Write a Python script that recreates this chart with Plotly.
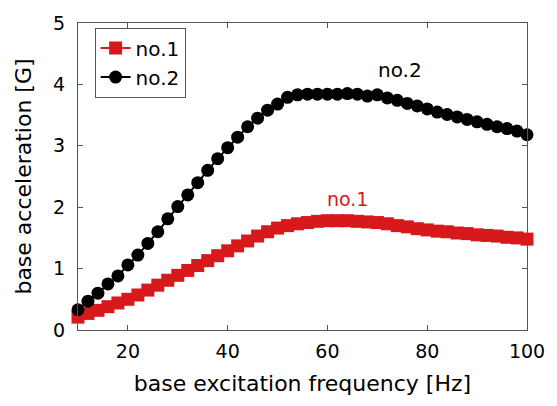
import plotly.graph_objects as go

# excitation frequency sweep [Hz]
freq = list(range(10, 101, 2))

# measured base acceleration [G]
accel_no1 = [0.21, 0.27, 0.32, 0.38, 0.44, 0.50, 0.57, 0.65, 0.73, 0.81,
             0.89, 0.97, 1.05, 1.13, 1.21, 1.29, 1.37, 1.45, 1.53, 1.60,
             1.66, 1.70, 1.73, 1.75, 1.77, 1.78, 1.78, 1.78, 1.77, 1.76,
             1.75, 1.73, 1.70, 1.68, 1.65, 1.63, 1.61, 1.60, 1.58, 1.57,
             1.55, 1.54, 1.53, 1.51, 1.50, 1.48]
accel_no2 = [0.33, 0.47, 0.60, 0.75, 0.88, 1.06, 1.22, 1.41, 1.60, 1.81,
             2.01, 2.20, 2.40, 2.60, 2.79, 2.97, 3.14, 3.31, 3.45, 3.58,
             3.68, 3.79, 3.83, 3.84, 3.84, 3.84, 3.84, 3.85, 3.84, 3.81,
             3.83, 3.78, 3.74, 3.69, 3.65, 3.60, 3.55, 3.51, 3.47, 3.43,
             3.39, 3.35, 3.31, 3.28, 3.24, 3.18]

x_ticks = [20, 40, 60, 80, 100]
y_ticks = [0, 1, 2, 3, 4, 5]

RED = "#d7191c"
FONT = "DejaVu Sans"

fig = go.Figure()
fig.add_trace(go.Scatter(
    x=freq, y=accel_no1, name="no.1", mode="lines+markers",
    line=dict(color=RED, width=2),
    marker=dict(symbol="square", size=13, color=RED),
    cliponaxis=False,
))
fig.add_trace(go.Scatter(
    x=freq, y=accel_no2, name="no.2", mode="lines+markers",
    line=dict(color="black", width=2),
    marker=dict(symbol="circle", size=13, color="black"),
    cliponaxis=False,
))

fig.add_annotation(x=64, y=1.78, text="no.1", showarrow=False,
                   yshift=22, font=dict(color=RED, size=19, family=FONT))
fig.add_annotation(x=74, y=3.85, text="no.2", showarrow=False,
                   yshift=24, xshift=3,
                   font=dict(color="black", size=20, family=FONT))

axis_common = dict(
    showgrid=False, zeroline=False, showline=True, mirror="ticks",
    linecolor="#555555", linewidth=1, ticks="inside", ticklen=5,
    tickcolor="#555555", tickfont=dict(size=19, family=FONT, color="black"),
)

fig.update_layout(
    width=557, height=406,
    margin=dict(l=78, r=21, t=14, b=76),
    paper_bgcolor="white", plot_bgcolor="white",
    font=dict(family=FONT, color="black"),
    showlegend=True,
    legend=dict(x=0.037, y=0.985, xanchor="left", yanchor="top",
                bordercolor="#555555", borderwidth=1, bgcolor="white",
                font=dict(size=20, family=FONT), tracegroupgap=0,
                itemwidth=30),
    xaxis=dict(range=[10, 100], tickvals=x_ticks,
               title=dict(text="base excitation frequency [Hz]",
                          font=dict(size=22, family=FONT), standoff=14),
               ticklabelstandoff=4,
               **axis_common),
    yaxis=dict(range=[0, 5], tickvals=y_ticks,
               title=dict(text="base acceleration [G]",
                          font=dict(size=22, family=FONT), standoff=15),
               ticklabelstandoff=8,
               **axis_common),
)

fig.write_html("out.html")
